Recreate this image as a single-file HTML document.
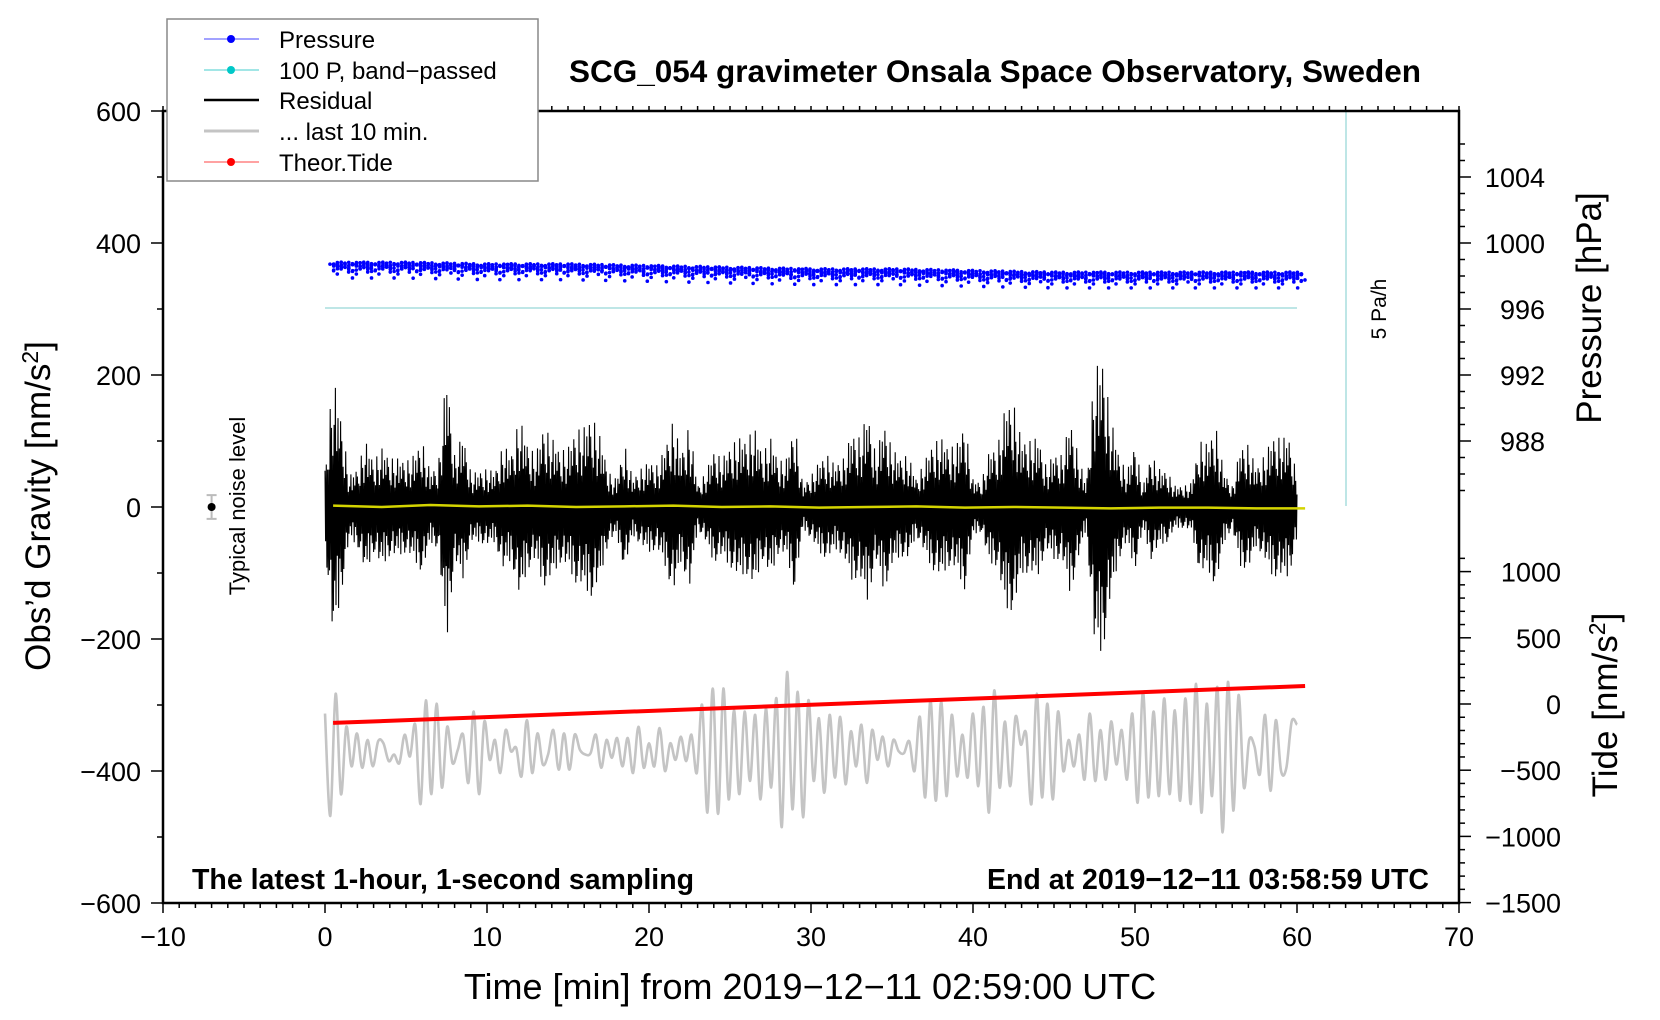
<!DOCTYPE html>
<html><head><meta charset="utf-8"><style>
body{margin:0;background:#fff}
svg{display:block;font-family:"Liberation Sans",sans-serif}
</style></head><body>
<svg id="c" width="1660" height="1020" xmlns="http://www.w3.org/2000/svg"></svg>
<script>
// ---- data ----
const xTicks=[-10,0,10,20,30,40,50,60,70];
const gTicks=[-600,-400,-200,0,200,400,600];
const pTicks=[988,992,996,1000,1004];
const tTicks=[-1500,-1000,-500,0,500,1000];
// residual envelope, peak amplitude nm/s^2 every 0.5 min from 0 to 60
const resEnv=[55,190,125,45,55,95,65,85,70,70,65,75,95,50,60,195,75,105,50,50,55,50,90,75,130,90,75,115,100,80,85,110,115,130,100,50,40,90,40,55,65,60,85,125,75,120,30,50,80,70,85,100,95,115,75,100,65,70,120,30,
45,65,75,60,70,105,100,135,75,120,85,70,75,40,65,90,100,85,90,120,40,35,80,85,145,150,95,95,100,60,75,75,125,75,30,200,210,130,75,50,90,30,75,55,50,30,30,35,95,90,115,50,30,85,90,55,75,100,100,100,45];
// last 10 minutes, stretched over 0..60, extrema values nm/s^2
const grayVals=[-313,-468,-283,-435,-333,-393,-343,-395,-353,-393,-355,-358,-385,-375,-388,-345,-378,-330,-450,-293,-435,-298,-425,-333,-388,-368,-345,-418,-310,-435,-325,-383,-353,-403,-338,-370,-365,-408,-323,-403,-343,-390,-375,-338,-398,-343,-398,-345,-368,-375,-373,-345,-395,-353,-380,-350,-393,-350,-403,-333,-395,-358,-393,-335,-400,-358,-383,-348,-385,-345,-403,-300,-463,-275,-465,-275,-443,-308,-435,-310,-415,-315,-443,-305,-425,-290,-485,-250,-458,
-280,-470,-293,-415,-320,-433,-315,-410,-318,-420,-340,-393,-330,-418,-338,-383,-348,-393,-353,-370,-373,-355,-400,-318,-440,-293,-445,-295,-438,-315,-408,-345,-410,-313,-423,-303,-463,-278,-425,-325,-423,-318,-360,-343,-450,-283,-440,-298,-443,-310,-400,-353,-393,-345,-413,-313,-415,-338,-413,-325,-390,-338,-413,-313,-448,-280,-440,-310,-438,-290,-435,-308,-445,-290,-450,-268,-463,-298,-438,-273,-493,-265,-460,-285,-425,-353,-363,-405,-315,-430,-323,-400,-395,-325,-330];
// pressure mean every 5 min (hPa)
const presMean=[998.6,998.6,998.5,998.5,998.4,998.3,998.2,998.2,998.1,998.0,998.0,998.0,998.0];
// theoretical tide (nm/s^2) at start & end
const tideT=[0.5,60.5];
const tideV=[-143,136];
// ---- scales ----
const X=m=>325+m*16.2;
const YG=g=>507-g*0.66;
const YP=p=>243-(p-1000)*16.5;
const YT=t=>704-t*0.1324;
const svg=document.getElementById('c');
const NS='http://www.w3.org/2000/svg';
function mk(tag,at,parent){const e=document.createElementNS(NS,tag);for(const k in at)e.setAttribute(k,at[k]);(parent||svg).appendChild(e);return e;}
function txt(s,at,parent){const e=mk('text',at,parent);e.textContent=s;return e;}

// gray curve
let gd='';const n=grayVals.length;
const gp=grayVals.map((v,i)=>[X(60*i/(n-1)),YG(v)]);
gd='M'+gp[0][0]+','+gp[0][1];
for(let i=1;i<n;i++){const p0=gp[Math.max(0,i-2)],p1=gp[i-1],p2=gp[i],p3=gp[Math.min(n-1,i+1)];
gd+=`C${p1[0]+(p2[0]-p0[0])/6},${p1[1]+(p2[1]-p0[1])/6} ${p2[0]-(p3[0]-p1[0])/6},${p2[1]-(p3[1]-p1[1])/6} ${p2[0]},${p2[1]}`;}
const gray=mk('path',{d:gd,fill:'none',stroke:'#c4c4c4','stroke-width':2.6});



// tide line
const tide=mk('line',{x1:X(tideT[0]),y1:YT(tideV[0]),x2:X(tideT[1]),y2:YT(tideV[1]),stroke:'#ff0000','stroke-width':4});



// residual
const pat=[0.95,-0.75,0.8,-1.0,0.55,-0.9,0.45,-0.7,1.0,-0.5,0.7,-0.95,0.4,-0.8,0.65,-0.6,1.0,-0.85,0.5,-0.45,0.85,-1.0,0.6,-0.55];
let rd='';const N=1500;
for(let i=0;i<=N;i++){const m=60*i/N;const f=m*2;const k=Math.min(Math.floor(f),resEnv.length-2);const fr=f-k;
const env=resEnv[k]*(1-fr)+resEnv[k+1]*fr;const v=env*pat[i%pat.length]*1.05;
rd+=(i?'L':'M')+X(m).toFixed(1)+','+YG(v).toFixed(1);}
const res=mk('path',{d:rd,fill:'none',stroke:'#000','stroke-width':1.1});


// yellow mean
let yd='';const yv=[2,0,3,1,2,0,1,2,0,1,-1,0,1,-1,0,-1,-2,-1,-1,-2,-2];
yv.forEach((v,i)=>{yd+=(i?'L':'M')+X(0.5+i*3)+','+YG(v);});
const yl=mk('path',{d:yd,fill:'none',stroke:'#d4d400','stroke-width':2.5});



// pressure dots
const pg=mk('g',{fill:'#0000ff'});


const off=[0.15,-0.1,0.25,-0.3,0.05,0.2,-0.2,0.1,-0.45,0.3,0,-0.15,0.22,-0.05,0.12,-0.25,0.08,-0.6,0.18,-0.08,0.02,-0.35,0.28,-0.12,0.1,-0.9,0.2,-0.02,0.14,-0.18,0.06,0.27,-0.4,0.09,-0.22,0.16,0.01,-0.07,0.24];
for(let i=0;i<=1800;i++){const m=0.4+60*i/1800;const k=Math.min(Math.floor(m/5),presMean.length-2);const fr=(m-5*k)/5;
const p=presMean[k]*(1-fr)+presMean[k+1]*fr+off[(i*7)%off.length]*0.8;
mk('circle',{cx:X(m)+((i*13)%7-3)*0.5,cy:YP(p),r:1.8},pg);}

// cyan lines
const c1=mk('line',{x1:X(0),y1:308,x2:X(60),y2:308,stroke:'#a8dede','stroke-width':1.5});

const c2=mk('line',{x1:1346,y1:111,x2:1346,y2:506,stroke:'#a8dede','stroke-width':1.5});

const rt=txt('5 Pa/h',{x:0,y:0,'font-size':21,'text-anchor':'middle',transform:'translate(1386,309) rotate(-90)'});


// noise marker
const nm=mk('g',{});
mk('line',{x1:X(-7),y1:YG(18),x2:X(-7),y2:YG(-18),stroke:'#bbb','stroke-width':2},nm);
mk('line',{x1:X(-7)-5,y1:YG(18),x2:X(-7)+5,y2:YG(18),stroke:'#bbb','stroke-width':2},nm);
mk('line',{x1:X(-7)-5,y1:YG(-18),x2:X(-7)+5,y2:YG(-18),stroke:'#bbb','stroke-width':2},nm);
mk('circle',{cx:X(-7),cy:YG(0),r:4,fill:'#000'},nm);
const nt=txt('Typical noise level',{x:0,y:0,'font-size':22,'text-anchor':'middle',transform:'translate(245,506) rotate(-90)'});


// frame
const fr=mk('rect',{x:163,y:111,width:1296,height:792,fill:'none',stroke:'#000','stroke-width':2.5});

const tk=mk('g',{stroke:'#000','stroke-width':1.5});
for(let m=-10;m<=70;m++){const x=X(m);const maj=m%10===0;
mk('line',{x1:x,y1:903,x2:x,y2:maj?913:908},tk);mk('line',{x1:x,y1:111,x2:x,y2:106},tk);}
for(let g=-600;g<=600;g+=100){const y=YG(g);mk('line',{x1:163,y1:y,x2:g%200===0?151:157,y2:y},tk);}
for(let p=984;p<=1006;p++){const y=YP(p);if(y<112||y>506)continue;mk('line',{x1:1459,y1:y,x2:p%4===0?1471:1465,y2:y},tk);}
for(let t=-1500;t<=1100;t+=100){const y=YT(t);if(y<512)continue;mk('line',{x1:1459,y1:y,x2:t%500===0?1471:1465,y2:y},tk);}

const xl=mk('g',{'font-size':27,'text-anchor':'middle'});
xTicks.forEach(v=>txt(String(v).replace('-','\u2212'),{x:X(v),y:946},xl));
const yl2=mk('g',{'font-size':27,'text-anchor':'end'});
gTicks.forEach(v=>txt(String(v).replace('-','\u2212'),{x:141,y:YG(v)+10},yl2));
const pl=mk('g',{'font-size':27,'text-anchor':'end'});
pTicks.forEach(v=>txt(String(v),{x:1545,y:YP(v)+10},pl));
const tl=mk('g',{'font-size':27,'text-anchor':'end'});
tTicks.forEach(v=>txt(String(v).replace('-','\u2212'),{x:1561,y:YT(v)+10},tl));
</script>
<svg width="1660" height="1020" style="position:absolute;left:0;top:0" xmlns="http://www.w3.org/2000/svg" font-family="Liberation Sans, sans-serif">
<text x="995" y="82" font-size="31.5" font-weight="bold" text-anchor="middle">SCG_054 gravimeter Onsala Space Observatory, Sweden</text>
<text x="192" y="889" font-size="28.5" font-weight="bold">The latest 1-hour, 1-second sampling</text>
<text x="1429" y="889" font-size="28.5" font-weight="bold" text-anchor="end">End at 2019−12−11 03:58:59 UTC</text>
<text x="810" y="999" font-size="36" text-anchor="middle">Time [min] from 2019−12−11 02:59:00 UTC</text>
<text transform="translate(50,506) rotate(-90)" font-size="35" text-anchor="middle">Obs’d Gravity [nm/s<tspan dy="-12" font-size="23">2</tspan><tspan dy="12">]</tspan></text>
<text transform="translate(1601,308) rotate(-90)" font-size="35" text-anchor="middle">Pressure [hPa]</text>
<text transform="translate(1617,705) rotate(-90)" font-size="35" text-anchor="middle">Tide [nm/s<tspan dy="-12" font-size="23">2</tspan><tspan dy="12">]</tspan></text>
<g>
<rect x="167" y="19" width="371" height="162" fill="#fff" stroke="#888" stroke-width="1.5"/>
<g><line x1="204" y1="39" x2="259" y2="39" stroke="#4444ff"/><circle cx="231" cy="39" r="4" fill="#0000ff"/><text x="279" y="48" font-size="24">Pressure</text></g>
<g><line x1="204" y1="70" x2="259" y2="70" stroke="#44cccc"/><circle cx="231" cy="70" r="4" fill="#00c8c8"/><text x="279" y="79" font-size="24">100 P, band−passed</text></g>
<g><line x1="204" y1="100" x2="259" y2="100" stroke="#000" stroke-width="2.5"/><text x="279" y="109" font-size="24">Residual</text></g>
<g><line x1="204" y1="131" x2="259" y2="131" stroke="#c4c4c4" stroke-width="3"/><text x="279" y="140" font-size="24">... last 10 min.</text></g>
<g><line x1="204" y1="162" x2="259" y2="162" stroke="#ff4444"/><circle cx="231" cy="162" r="4" fill="#ff0000"/><text x="279" y="171" font-size="24">Theor.Tide</text></g>
</g>
</svg>
</body></html>
